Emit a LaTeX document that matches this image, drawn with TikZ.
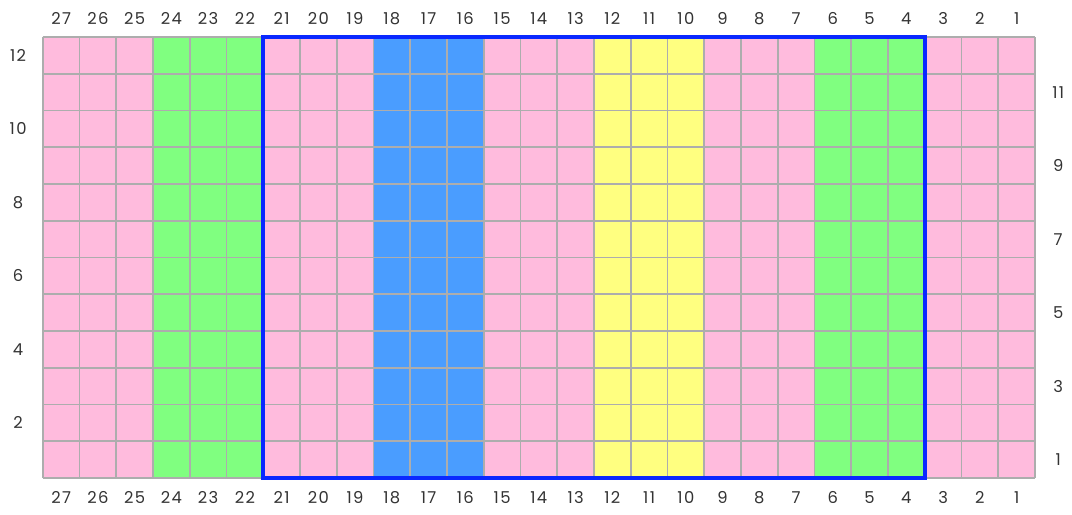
\documentclass[tikz,border=0pt]{standalone}
\usepackage{fontspec}
\setmainfont{Poppins}[LetterSpace=8]
\usetikzlibrary{positioning}
\definecolor{chpink}{HTML}{FFBBDD}
\definecolor{chgreen}{HTML}{80FF80}
\definecolor{chblue}{HTML}{4A9DFF}
\definecolor{chyellow}{HTML}{FFFF80}
\definecolor{chgrid}{HTML}{ADADAD}
\definecolor{chframe}{HTML}{0A28FF}
\definecolor{chtext}{HTML}{333333}

\begin{document}
\begin{tikzpicture}[
  scale=0.75,
  gridline/.style={draw=chgrid, line width=1.1pt},
  frame/.style={draw=chframe, line width=2.4pt},
  num/.style={font=\fontsize{9.5}{11}\selectfont, text=chtext, inner sep=1pt}
]
\useasboundingbox (-1.163,-0.993) rectangle (28.007,13.007);
% colour bands
\fill[chpink]   (0,0)  rectangle (27,12);
\fill[chgreen]  (3,0)  rectangle (6,12);
\fill[chblue]   (9,0)  rectangle (12,12);
\fill[chyellow] (15,0) rectangle (18,12);
\fill[chgreen]  (21,0) rectangle (24,12);
\draw[gridline] (0,0) grid (27,12);
\draw[frame] (6,0) rectangle (24,12);
% stitch numbers
\foreach \i in {1,...,27} {
  \node[num] (ctop-\i) at (27.5-\i,12.5)  {\i};
  \node[num] (cbot-\i) at (27.5-\i,-0.53) {\i};
}
% row numbers
\foreach \r in {2,4,...,12}
  \node[num] (row-\r) at (-0.67,\r-0.5) {\r};
\foreach \r in {1,3,...,11}
  \node[num] (row-\r) at (27.63,\r-0.5) {\r};
\end{tikzpicture}
\end{document}
